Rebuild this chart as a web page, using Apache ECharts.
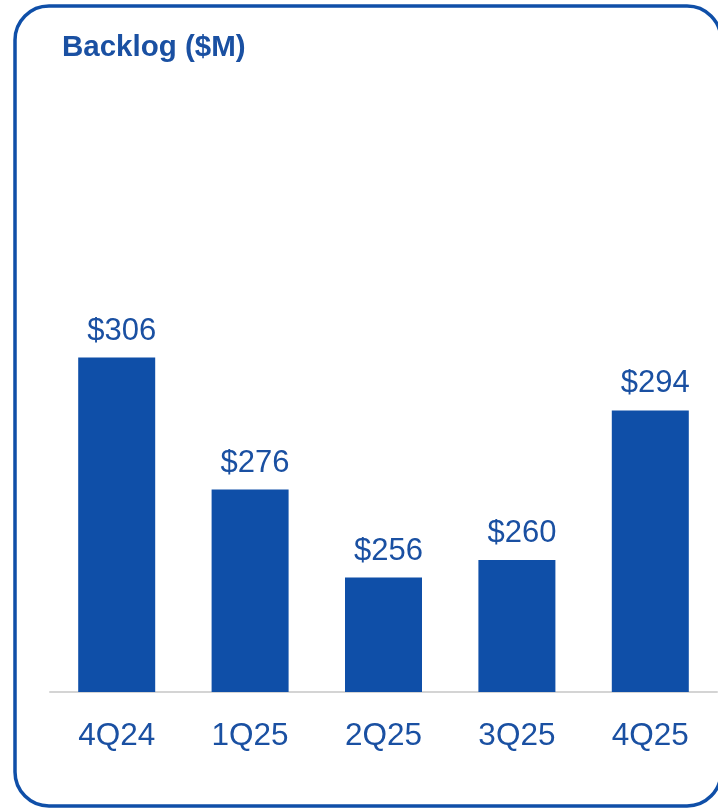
<!DOCTYPE html>
<html>
<head>
<meta charset="utf-8">
<script src="https://cdn.jsdelivr.net/npm/echarts@6/dist/echarts.min.js"></script>
<style>
  html, body { margin: 0; padding: 0; background: #ffffff; }
  #chart { width: 718px; height: 808px; }
</style>
</head>
<body>
<div id="chart"></div>
<script>
// Quarterly backlog, in millions of dollars
const quarters = ['4Q24', '1Q25', '2Q25', '3Q25', '4Q25'];
const backlog = [306, 276, 256, 260, 294];

const BLUE = '#0f4fa8';
const TEXT_BLUE = '#1a50a2';
const FONT = '"Liberation Sans", Arial, sans-serif';

const chart = echarts.init(document.getElementById('chart'), null, { renderer: 'canvas' });

chart.setOption({
  animation: false,
  backgroundColor: '#ffffff',
  title: {
    text: 'Backlog ($M)',
    left: 62,
    top: 33,
    padding: 0,
    textStyle: { color: TEXT_BLUE, fontFamily: FONT, fontWeight: 'bold', fontSize: 29.5 }
  },
  graphic: [{
    type: 'rect',
    shape: { x: 15, y: 6, width: 706, height: 800, r: 34 },
    style: { fill: 'none', stroke: BLUE, lineWidth: 3.5 },
    silent: true
  }],
  grid: { left: 50, right: 1, top: 252, bottom: 116 },
  xAxis: {
    type: 'category',
    data: quarters,
    axisTick: { show: false },
    axisLine: { lineStyle: { color: '#d4d4d4', width: 2 } },
    axisLabel: { color: TEXT_BLUE, fontFamily: FONT, fontSize: 31.5, margin: 28 }
  },
  yAxis: {
    type: 'value',
    min: 230,
    max: 330,
    show: false,
    splitLine: { show: false }
  },
  series: [{
    type: 'bar',
    data: backlog,
    barWidth: 77,
    itemStyle: { color: BLUE },
    label: {
      show: true,
      position: 'top',
      distance: 11,
      offset: [5, 0],
      formatter: p => '$' + p.value,
      color: TEXT_BLUE,
      fontFamily: FONT,
      fontSize: 31
    }
  }]
});
</script>
</body>
</html>
